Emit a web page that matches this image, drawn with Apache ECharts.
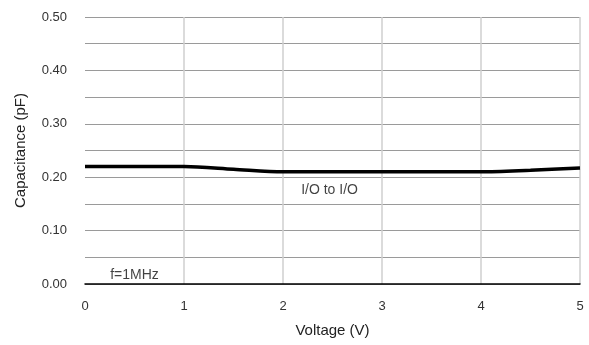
<!DOCTYPE html>
<html>
<head>
<meta charset="utf-8">
<script src="https://cdn.jsdelivr.net/npm/echarts@6/dist/echarts.min.js"></script>
<style>
  html, body { margin: 0; padding: 0; background: #fff; }
  #main { width: 589px; height: 345px; }
</style>
</head>
<body>
<div id="main"></div>
<script>
// Voltage (V) vs Capacitance (pF)
const voltage = [0, 0.5, 1, 1.5, 2, 2.5, 3, 3.5, 4, 4.5, 5];
const capacitance = [0.220, 0.220, 0.220, 0.215, 0.210, 0.210, 0.210, 0.210, 0.210, 0.213, 0.217];
const notes = [
  { text: 'I/O to I/O', x: 2.47, y: 0.175 },
  { text: 'f=1MHz', x: 0.5, y: 0.016 }
];

var chart = echarts.init(document.getElementById('main'));
var font = 'Liberation Sans, Arial, sans-serif';

var option = {
  animation: false,
  grid: { left: 85, right: 9, top: 17, bottom: 61, outerBoundsMode: 'none' },
  xAxis: {
    type: 'value',
    min: 0,
    max: 5,
    interval: 1,
    name: 'Voltage (V)',
    nameLocation: 'middle',
    nameGap: 39,
    nameTextStyle: { fontFamily: font, fontSize: 15, color: '#222' },
    axisLine: { show: true, lineStyle: { color: '#000', width: 1.5 } },
    axisTick: { show: false },
    axisLabel: { fontFamily: font, fontSize: 13, color: '#333', margin: 16 },
    splitLine: { show: true, showMinLine: false, lineStyle: { color: '#cfcfcf', width: 1.5 } }
  },
  yAxis: {
    type: 'value',
    min: 0,
    max: 0.5,
    interval: 0.1,
    name: 'Capacitance (pF)',
    nameLocation: 'middle',
    nameGap: 57,
    nameTextStyle: { fontFamily: font, fontSize: 15, color: '#222' },
    axisLine: { show: false },
    axisTick: { show: false },
    axisLabel: { fontFamily: font, fontSize: 13, color: '#333', margin: 18,
      formatter: function (v) { return v.toFixed(2); } },
    splitLine: { show: true, lineStyle: { color: '#9a9a9a', width: 1 } },
    minorTick: { show: false, splitNumber: 2 },
    minorSplitLine: { show: true, lineStyle: { color: '#9a9a9a', width: 1 } }
  },
  series: [
    {
      type: 'line',
      data: voltage.map(function (v, i) { return [v, capacitance[i]]; }),
      showSymbol: false,
      smooth: 0.3,
      lineStyle: { color: '#000', width: 3.5 },
      z: 5
    },
    {
      type: 'scatter',
      symbolSize: 0,
      data: notes.map(function (n) { return { value: [n.x, n.y], name: n.text }; }),
      label: {
        show: true,
        position: 'inside',
        formatter: '{b}',
        fontFamily: font,
        fontSize: 14,
        color: '#111'
      },
      silent: true,
      z: 6
    }
  ]
};
chart.setOption(option);
</script>
</body>
</html>
